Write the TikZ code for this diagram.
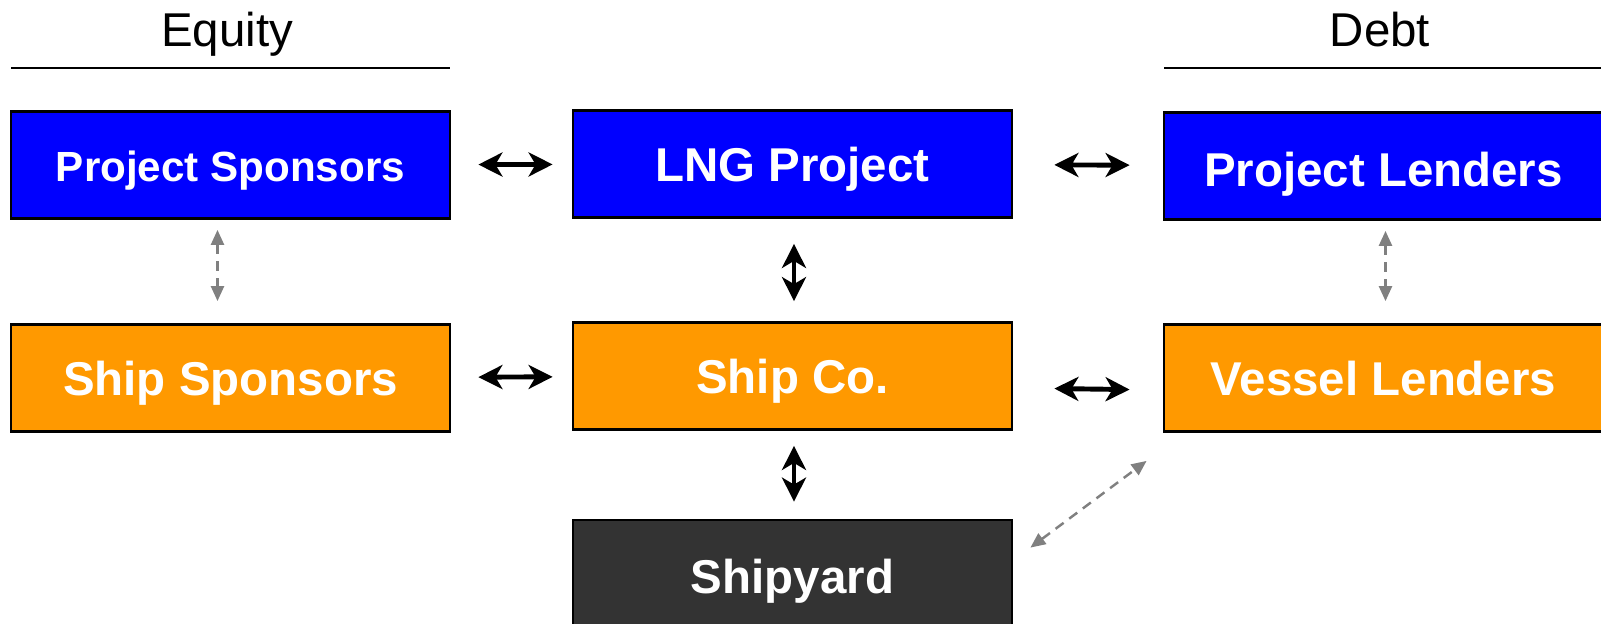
\documentclass[tikz,border=0pt]{standalone}
\usepackage{fontspec}
\setmainfont{Liberation Sans}
\usetikzlibrary{arrows.meta,positioning}
\definecolor{projblue}{HTML}{0000FF}
\definecolor{shiporange}{HTML}{FF9900}
\definecolor{yardgray}{HTML}{333333}
\definecolor{linkgray}{HTML}{808080}
\tikzset{
  box/.style={draw=black,line width=0.8pt,minimum width=4.39cm,
              minimum height=1.07cm,inner sep=0pt,text=white,
              text height=0.41cm,text depth=0.06cm,
              font=\bfseries\fontsize{13.5}{16}\selectfont},
  bluebox/.style={box,fill=projblue},
  orangebox/.style={box,fill=shiporange},
  darkbox/.style={box,fill=yardgray,minimum height=1.12cm},
  head/.style={anchor=base,font=\fontsize{13.5}{16}\selectfont},
  rule/.style={line width=0.7pt,draw=black},
  blkarr/.style={{Stealth[length=0.24cm,width=0.24cm,inset=0.07cm]}-{Stealth[length=0.24cm,width=0.24cm,inset=0.07cm]},
                 line width=1.4pt,draw=black},
  grayarr/.style={{Triangle[length=0.15cm,width=0.13cm]}-{Triangle[length=0.15cm,width=0.13cm]},
                  line width=0.7pt,draw=linkgray,dash pattern=on 0.1cm off 0.07cm}
}
\begin{document}
\begin{tikzpicture}[x=1cm,y=1cm]
    \useasboundingbox (0,0) rectangle (16.01,-6.23);
    % headings
    \node[head] (eqh) at (2.27,-0.46) {Equity};
    \node[head] (dbh) at (13.80,-0.46) {Debt};
    \coordinate (eqa) at (0.11,-0.68);
    \coordinate (eqb) at (4.50,-0.68);
    \coordinate (dba) at (11.64,-0.68);
    \coordinate (dbb) at (16.01,-0.68);
    \draw[rule] (eqa) -- (eqb);
    \draw[rule] (dba) -- (dbb);

    % boxes
    \node[bluebox,font=\bfseries\fontsize{12}{14}\selectfont,text height=0.38cm] (ps) at (2.305,-1.65) {Project Sponsors};
    \node[bluebox] (lng) at (7.925,-1.64) {LNG Project};
    \node[bluebox,text height=0.46cm] (pl) at (13.835,-1.66) {Project Lenders};
    \node[orangebox] (ss) at (2.305,-3.78) {Ship Sponsors};
    \node[orangebox] (shipco) at (7.925,-3.76) {Ship Co.};
    \node[orangebox] (vl) at (13.835,-3.78) {Vessel Lenders};
    \node[darkbox] (yard) at (7.925,-5.76) {Shipyard};

    % links
    \draw[blkarr,shorten <=0.27cm,shorten >=0.19cm] (ps) -- (lng);
    \draw[blkarr,shorten <=0.41cm,shorten >=0.33cm] (lng) -- (pl);
    \draw[blkarr,shorten <=0.27cm,shorten >=0.19cm] (ss) -- (shipco);
    \draw[blkarr,shorten <=0.41cm,shorten >=0.33cm]
      ([yshift=-0.12cm]shipco.east) -- ([yshift=-0.12cm]vl.west);
    \draw[blkarr,shorten <=0.25cm,shorten >=0.20cm]
      ([xshift=0.015cm]lng.south) -- ([xshift=0.015cm]shipco.north);
    \draw[blkarr,shorten <=0.15cm,shorten >=0.17cm]
      ([xshift=0.015cm]shipco.south) -- ([xshift=0.015cm]yard.north);
    \draw[grayarr,shorten <=0.10cm,shorten >=0.22cm]
      ([xshift=-0.13cm]ps.south) -- ([xshift=-0.13cm]ss.north);
    \draw[grayarr,shorten <=0.10cm,shorten >=0.22cm]
      ([xshift=0.02cm]pl.south) -- ([xshift=0.02cm]vl.north);
    \draw[grayarr]
      ([shift={(0.17,-0.29)}]yard.north east) -- ([shift={(-0.16,-0.28)}]vl.south west);
\end{tikzpicture}
\end{document}
